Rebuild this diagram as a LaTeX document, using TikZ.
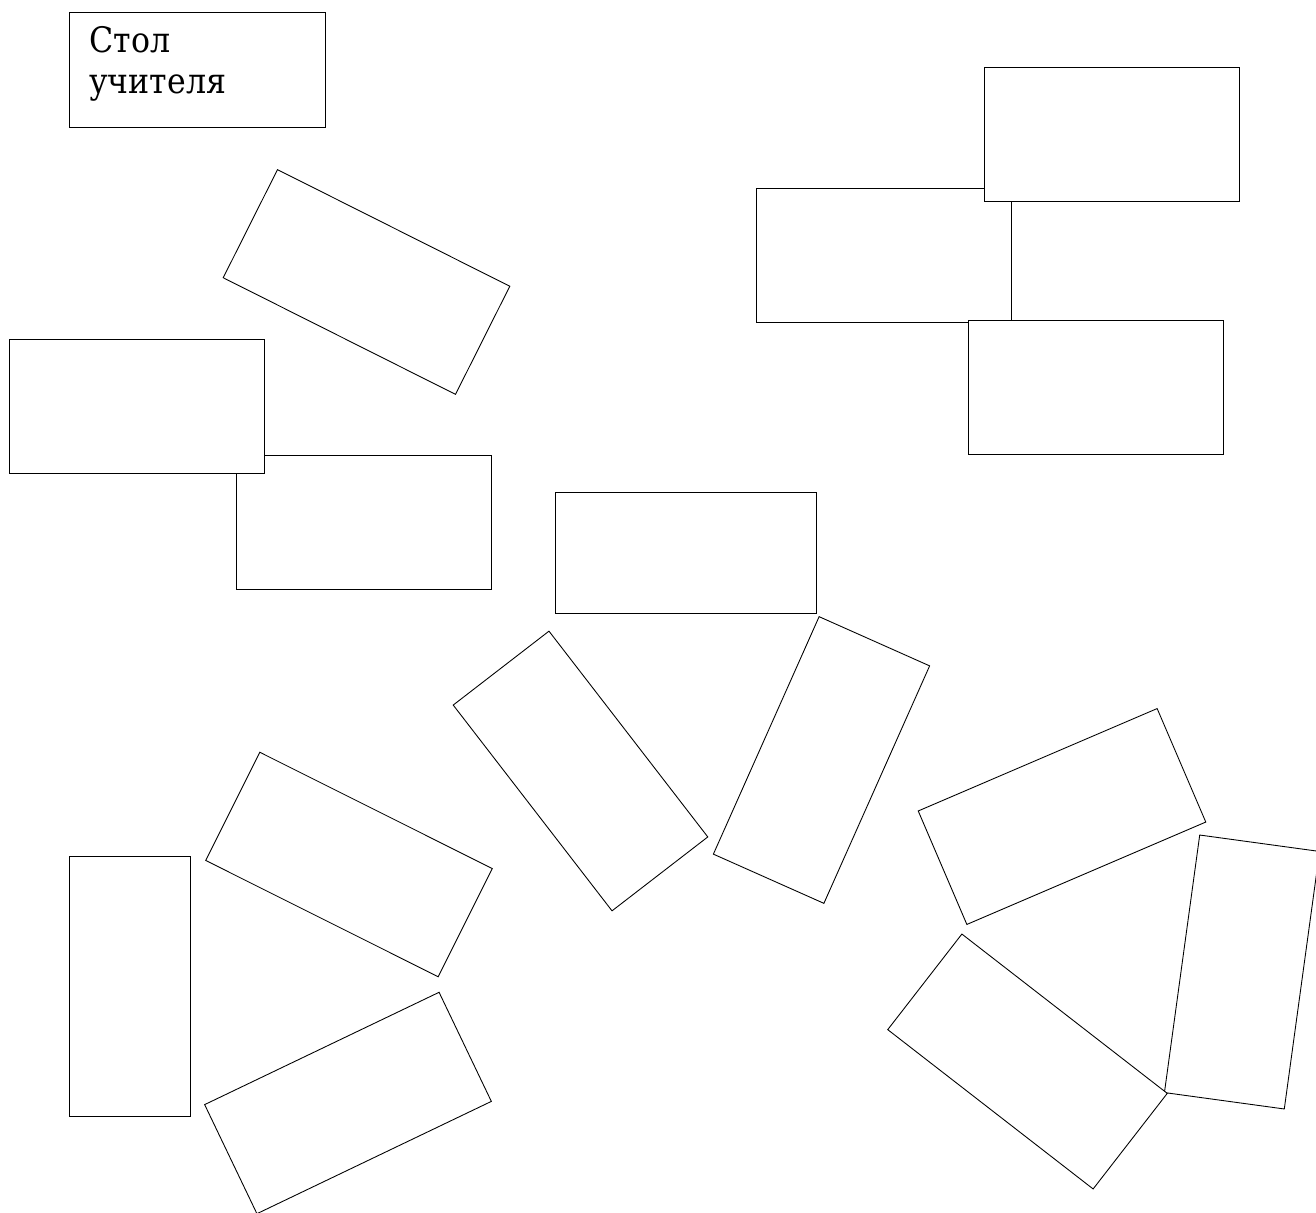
\documentclass[tikz,border=0pt]{standalone}
\usepackage{fontspec}
\setmainfont{DejaVu Serif Condensed}
\usetikzlibrary{positioning}

\begin{document}
\begin{tikzpicture}[
    x=0.02cm, y=-0.02cm,
    desk/.style={draw, fill=white, line width=0.5pt, inner sep=0pt, minimum width=5.2cm, minimum height=2.42cm},
    pairdesk/.style={draw, fill=white, line width=0.5pt, inner sep=0pt, minimum width=5.1cm, minimum height=2.68cm},
  ]
  \useasboundingbox (0,0) rectangle (1316,1213);

  % teacher
  \node[draw, line width=0.5pt, minimum width=5.12cm, minimum height=2.3cm] (T) at (197,69.5) {};
  \node[anchor=base west, align=left, inner sep=0pt, font=\fontsize{20}{23.9}\selectfont] (Tl) at (89,94) {Стол\\учителя};

  % top left
  \node[desk, rotate=-26.66] (d1) at (366.5,282) {};
  \node[pairdesk] (d3) at (363.5,522.5) {};
  \node[pairdesk] (d2) at (136.5,406) {};

  % top right
  \node[pairdesk] (e2) at (883.5,255) {};
  \node[pairdesk] (e1) at (1111.5,134) {};
  \node[pairdesk] (e3) at (1095.5,387.5) {};

  % middle
  \node[desk, minimum width=5.22cm] (m1) at (685.5,552.5) {};
  \node[desk, rotate=-52.34] (m2) at (580.5,771) {};
  \node[desk, rotate=66] (m3) at (821.5,760) {};

  % bottom left
  \node[desk, rotate=90] (b1) at (129.5,986.5) {};
  \node[desk, rotate=-26.57] (b2) at (349,864.5) {};
  \node[desk, rotate=25.6] (b3) at (348,1103) {};

  % bottom right
  \node[desk, rotate=23.2, minimum height=2.47cm] (c1) at (1062,816.5) {};
  \node[desk, rotate=82.2] (c2) at (1242,972) {};
  \node[desk, rotate=-37.8] (c3) at (1027.5,1061.5) {};
\end{tikzpicture}
\end{document}
